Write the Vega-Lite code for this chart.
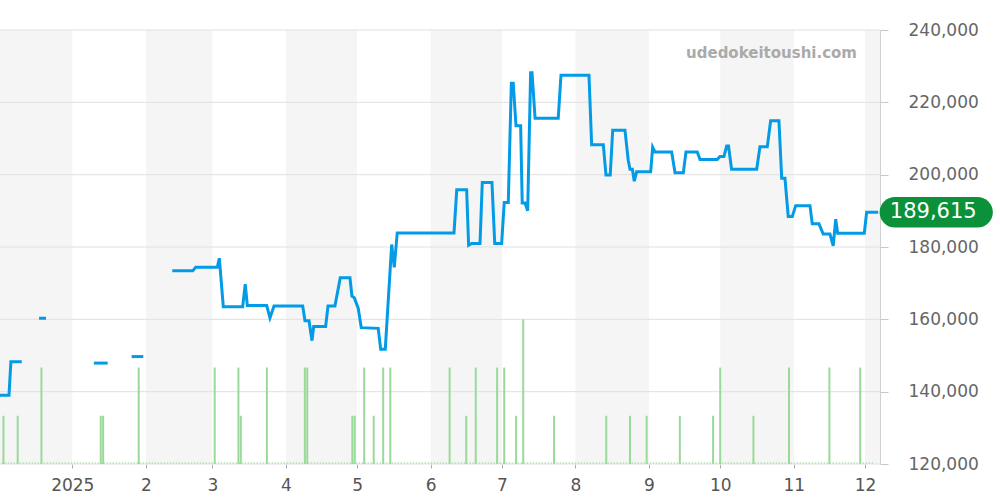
{
  "$schema": "https://vega.github.io/schema/vega-lite/v6.json",
  "width": 880,
  "height": 434,
  "autosize": {"type": "none"},
  "padding": {"left": 0, "top": 30, "right": 120, "bottom": 36},
  "background": "white",
  "config": {"view": {"stroke": null}, "font": "DejaVu Sans"},
  "title": {"text": "udedokeitoushi.com", "anchor": "end", "frame": "group", "orient": "top", "offset": 0, "dx": -23, "dy": 40, "fontSize": 15, "fontWeight": "bold", "color": "#aaaaaa", "font": "DejaVu Sans"},
  "datasets": {
    "bands": [
      {"date": "2024-11-30", "end": "2025-01-01"},
      {"date": "2025-02-01", "end": "2025-03-01"},
      {"date": "2025-04-01", "end": "2025-05-01"},
      {"date": "2025-06-01", "end": "2025-07-01"},
      {"date": "2025-08-01", "end": "2025-09-01"},
      {"date": "2025-10-01", "end": "2025-11-01"},
      {"date": "2025-12-01", "end": "2026-01-01"}
    ],
    "grid": [{"v": 120000}, {"v": 140000}, {"v": 160000}, {"v": 180000}, {"v": 200000}, {"v": 220000}, {"v": 240000}],
    "zero": [{"date": "2024-12-01", "end": "2025-12-05"}],
    "volume": [
      {"date": "2024-12-03", "vol": 1}, {"date": "2024-12-09", "vol": 1}, {"date": "2024-12-19", "vol": 2},
      {"date": "2025-01-13", "vol": 1}, {"date": "2025-01-14", "vol": 1}, {"date": "2025-01-29", "vol": 2},
      {"date": "2025-03-02", "vol": 2}, {"date": "2025-03-12", "vol": 2}, {"date": "2025-03-13", "vol": 1},
      {"date": "2025-03-24", "vol": 2}, {"date": "2025-04-09", "vol": 2}, {"date": "2025-04-10", "vol": 2},
      {"date": "2025-04-29", "vol": 1}, {"date": "2025-04-30", "vol": 1}, {"date": "2025-05-04", "vol": 2},
      {"date": "2025-05-08", "vol": 1}, {"date": "2025-05-12", "vol": 2}, {"date": "2025-05-15", "vol": 2},
      {"date": "2025-06-09", "vol": 2}, {"date": "2025-06-16", "vol": 1}, {"date": "2025-06-20", "vol": 2},
      {"date": "2025-06-29", "vol": 2}, {"date": "2025-07-02", "vol": 2}, {"date": "2025-07-07", "vol": 1},
      {"date": "2025-07-10", "vol": 3}, {"date": "2025-07-23", "vol": 1}, {"date": "2025-08-14", "vol": 1},
      {"date": "2025-08-24", "vol": 1}, {"date": "2025-08-31", "vol": 1}, {"date": "2025-09-14", "vol": 1},
      {"date": "2025-09-28", "vol": 1}, {"date": "2025-10-01", "vol": 2}, {"date": "2025-10-15", "vol": 1},
      {"date": "2025-10-30", "vol": 2}, {"date": "2025-11-16", "vol": 2}, {"date": "2025-11-29", "vol": 2}
    ],
    "price": [
      {"date": "2024-12-01T00:00:00Z", "price": 139000, "seg": 1},
      {"date": "2024-12-05T08:00:00Z", "price": 139000, "seg": 1},
      {"date": "2024-12-06T03:00:00Z", "price": 148300, "seg": 1},
      {"date": "2024-12-10T17:00:00Z", "price": 148300, "seg": 1},
      {"date": "2024-12-18T00:00:00Z", "price": 160300, "seg": 2},
      {"date": "2024-12-20T22:00:00Z", "price": 160300, "seg": 2},
      {"date": "2025-01-10T02:00:00Z", "price": 147900, "seg": 3},
      {"date": "2025-01-15T22:00:00Z", "price": 147900, "seg": 3},
      {"date": "2025-01-26T00:00:00Z", "price": 149700, "seg": 4},
      {"date": "2025-01-30T22:00:00Z", "price": 149700, "seg": 4},
      {"date": "2025-02-12T03:00:00Z", "price": 173400, "seg": 5},
      {"date": "2025-02-20T18:00:00Z", "price": 173400, "seg": 5},
      {"date": "2025-02-22T00:00:00Z", "price": 174400, "seg": 5},
      {"date": "2025-03-03T02:00:00Z", "price": 174400, "seg": 5},
      {"date": "2025-03-03T23:00:00Z", "price": 176900, "seg": 5},
      {"date": "2025-03-05T15:00:00Z", "price": 163500, "seg": 5},
      {"date": "2025-03-13T19:00:00Z", "price": 163500, "seg": 5},
      {"date": "2025-03-14T21:00:00Z", "price": 169700, "seg": 5},
      {"date": "2025-03-15T18:00:00Z", "price": 163800, "seg": 5},
      {"date": "2025-03-23T22:00:00Z", "price": 163800, "seg": 5},
      {"date": "2025-03-25T07:00:00Z", "price": 160400, "seg": 5},
      {"date": "2025-03-27T00:00:00Z", "price": 163700, "seg": 5},
      {"date": "2025-04-08T02:00:00Z", "price": 163700, "seg": 5},
      {"date": "2025-04-09T01:00:00Z", "price": 159600, "seg": 5},
      {"date": "2025-04-10T18:00:00Z", "price": 159600, "seg": 5},
      {"date": "2025-04-12T00:00:00Z", "price": 154100, "seg": 5},
      {"date": "2025-04-12T17:00:00Z", "price": 158000, "seg": 5},
      {"date": "2025-04-17T18:00:00Z", "price": 158000, "seg": 5},
      {"date": "2025-04-18T18:00:00Z", "price": 163700, "seg": 5},
      {"date": "2025-04-21T16:00:00Z", "price": 163700, "seg": 5},
      {"date": "2025-04-23T22:00:00Z", "price": 171500, "seg": 5},
      {"date": "2025-04-28T00:00:00Z", "price": 171500, "seg": 5},
      {"date": "2025-04-28T20:00:00Z", "price": 166400, "seg": 5},
      {"date": "2025-04-29T20:00:00Z", "price": 166000, "seg": 5},
      {"date": "2025-05-01T12:00:00Z", "price": 163000, "seg": 5},
      {"date": "2025-05-02T18:00:00Z", "price": 157700, "seg": 5},
      {"date": "2025-05-09T22:00:00Z", "price": 157500, "seg": 5},
      {"date": "2025-05-10T23:00:00Z", "price": 151700, "seg": 5},
      {"date": "2025-05-12T21:00:00Z", "price": 151700, "seg": 5},
      {"date": "2025-05-15T14:00:00Z", "price": 180700, "seg": 5},
      {"date": "2025-05-16T16:00:00Z", "price": 174400, "seg": 5},
      {"date": "2025-05-17T22:00:00Z", "price": 183900, "seg": 5},
      {"date": "2025-06-10T20:00:00Z", "price": 183900, "seg": 5},
      {"date": "2025-06-12T00:00:00Z", "price": 195800, "seg": 5},
      {"date": "2025-06-16T04:00:00Z", "price": 195800, "seg": 5},
      {"date": "2025-06-17T00:00:00Z", "price": 180500, "seg": 5},
      {"date": "2025-06-18T07:00:00Z", "price": 181000, "seg": 5},
      {"date": "2025-06-21T19:00:00Z", "price": 181000, "seg": 5},
      {"date": "2025-06-22T18:00:00Z", "price": 197800, "seg": 5},
      {"date": "2025-06-26T20:00:00Z", "price": 197800, "seg": 5},
      {"date": "2025-06-28T00:00:00Z", "price": 181000, "seg": 5},
      {"date": "2025-06-30T22:00:00Z", "price": 181000, "seg": 5},
      {"date": "2025-07-02T00:00:00Z", "price": 192300, "seg": 5},
      {"date": "2025-07-03T17:00:00Z", "price": 192300, "seg": 5},
      {"date": "2025-07-05T00:00:00Z", "price": 225300, "seg": 5},
      {"date": "2025-07-05T19:00:00Z", "price": 225300, "seg": 5},
      {"date": "2025-07-06T23:00:00Z", "price": 213500, "seg": 5},
      {"date": "2025-07-08T22:00:00Z", "price": 213500, "seg": 5},
      {"date": "2025-07-09T14:00:00Z", "price": 192200, "seg": 5},
      {"date": "2025-07-10T18:00:00Z", "price": 192200, "seg": 5},
      {"date": "2025-07-11T21:00:00Z", "price": 190000, "seg": 5},
      {"date": "2025-07-13T03:00:00Z", "price": 228200, "seg": 5},
      {"date": "2025-07-13T17:00:00Z", "price": 228200, "seg": 5},
      {"date": "2025-07-15T00:00:00Z", "price": 215600, "seg": 5},
      {"date": "2025-07-24T18:00:00Z", "price": 215600, "seg": 5},
      {"date": "2025-07-25T22:00:00Z", "price": 227500, "seg": 5},
      {"date": "2025-08-06T17:00:00Z", "price": 227500, "seg": 5},
      {"date": "2025-08-07T20:00:00Z", "price": 208300, "seg": 5},
      {"date": "2025-08-12T18:00:00Z", "price": 208300, "seg": 5},
      {"date": "2025-08-13T21:00:00Z", "price": 199900, "seg": 5},
      {"date": "2025-08-15T16:00:00Z", "price": 199900, "seg": 5},
      {"date": "2025-08-16T17:00:00Z", "price": 212300, "seg": 5},
      {"date": "2025-08-21T21:00:00Z", "price": 212300, "seg": 5},
      {"date": "2025-08-23T06:00:00Z", "price": 204000, "seg": 5},
      {"date": "2025-08-24T00:00:00Z", "price": 201500, "seg": 5},
      {"date": "2025-08-25T00:00:00Z", "price": 201500, "seg": 5},
      {"date": "2025-08-25T19:00:00Z", "price": 198200, "seg": 5},
      {"date": "2025-08-26T19:00:00Z", "price": 200800, "seg": 5},
      {"date": "2025-09-01T17:00:00Z", "price": 200800, "seg": 5},
      {"date": "2025-09-02T13:00:00Z", "price": 207600, "seg": 5},
      {"date": "2025-09-03T12:00:00Z", "price": 206300, "seg": 5},
      {"date": "2025-09-10T13:00:00Z", "price": 206300, "seg": 5},
      {"date": "2025-09-11T23:00:00Z", "price": 200500, "seg": 5},
      {"date": "2025-09-15T11:00:00Z", "price": 200500, "seg": 5},
      {"date": "2025-09-16T14:00:00Z", "price": 206300, "seg": 5},
      {"date": "2025-09-21T08:00:00Z", "price": 206300, "seg": 5},
      {"date": "2025-09-22T12:00:00Z", "price": 204200, "seg": 5},
      {"date": "2025-09-29T18:00:00Z", "price": 204200, "seg": 5},
      {"date": "2025-09-30T22:00:00Z", "price": 205000, "seg": 5},
      {"date": "2025-10-02T14:00:00Z", "price": 205000, "seg": 5},
      {"date": "2025-10-03T17:00:00Z", "price": 207900, "seg": 5},
      {"date": "2025-10-04T12:00:00Z", "price": 207900, "seg": 5},
      {"date": "2025-10-05T19:00:00Z", "price": 201500, "seg": 5},
      {"date": "2025-10-16T09:00:00Z", "price": 201500, "seg": 5},
      {"date": "2025-10-17T18:00:00Z", "price": 207700, "seg": 5},
      {"date": "2025-10-20T20:00:00Z", "price": 207700, "seg": 5},
      {"date": "2025-10-22T06:00:00Z", "price": 214900, "seg": 5},
      {"date": "2025-10-25T18:00:00Z", "price": 214900, "seg": 5},
      {"date": "2025-10-26T22:00:00Z", "price": 199000, "seg": 5},
      {"date": "2025-10-28T07:00:00Z", "price": 199000, "seg": 5},
      {"date": "2025-10-29T16:00:00Z", "price": 188400, "seg": 5},
      {"date": "2025-10-31T09:00:00Z", "price": 188400, "seg": 5},
      {"date": "2025-11-01T19:00:00Z", "price": 191400, "seg": 5},
      {"date": "2025-11-07T20:00:00Z", "price": 191400, "seg": 5},
      {"date": "2025-11-08T19:00:00Z", "price": 186400, "seg": 5},
      {"date": "2025-11-11T15:00:00Z", "price": 186400, "seg": 5},
      {"date": "2025-11-13T10:00:00Z", "price": 183600, "seg": 5},
      {"date": "2025-11-16T06:00:00Z", "price": 183600, "seg": 5},
      {"date": "2025-11-17T15:00:00Z", "price": 180300, "seg": 5},
      {"date": "2025-11-18T16:00:00Z", "price": 187700, "seg": 5},
      {"date": "2025-11-19T12:00:00Z", "price": 183800, "seg": 5},
      {"date": "2025-11-30T17:00:00Z", "price": 183800, "seg": 5},
      {"date": "2025-12-01T17:00:00Z", "price": 189615, "seg": 5},
      {"date": "2025-12-06T14:00:00Z", "price": 189615, "seg": 5}
    ],
    "last": [{"date": "2025-12-06T14:00:00Z", "price": 189615}]
  },
  "resolve": {"scale": {"y": "independent"}},
  "layer": [
    {
      "data": {"name": "bands"},
      "mark": {"type": "rect", "color": "#f5f5f5", "clip": true},
      "encoding": {
        "x": {"field": "date", "type": "temporal",
          "scale": {"type": "utc", "domain": [{"year": 2024, "month": 12, "date": 1, "hours": 13, "utc": true}, {"year": 2025, "month": 12, "date": 7, "hours": 8, "utc": true}]},
          "axis": {"title": null, "domain": false, "grid": false, "ticks": true, "tickSize": 4, "tickColor": "#aaaaaa",
            "labelFontSize": 17, "labelColor": "#555555", "labelPadding": 9, "labelFont": "DejaVu Sans", "labelFlush": false, "labelOverlap": false,
            "values": [
              {"year": 2025, "month": 1, "date": 1, "utc": true}, {"year": 2025, "month": 2, "date": 1, "utc": true},
              {"year": 2025, "month": 3, "date": 1, "utc": true}, {"year": 2025, "month": 4, "date": 1, "utc": true},
              {"year": 2025, "month": 5, "date": 1, "utc": true}, {"year": 2025, "month": 6, "date": 1, "utc": true},
              {"year": 2025, "month": 7, "date": 1, "utc": true}, {"year": 2025, "month": 8, "date": 1, "utc": true},
              {"year": 2025, "month": 9, "date": 1, "utc": true}, {"year": 2025, "month": 10, "date": 1, "utc": true},
              {"year": 2025, "month": 11, "date": 1, "utc": true}, {"year": 2025, "month": 12, "date": 1, "utc": true}
            ],
            "labelExpr": "utcmonth(datum.value) === 0 ? utcFormat(datum.value, '%Y') : utcFormat(datum.value, '%-m')"}},
        "x2": {"field": "end"}
      }
    },
    {
      "data": {"name": "grid"},
      "mark": {"type": "rule", "color": "#e0e0e0", "strokeWidth": 1},
      "encoding": {
        "y": {"field": "v", "type": "quantitative", "scale": {"domain": [120000, 240000], "nice": false, "zero": false}, "axis": null}
      }
    },
    {
      "data": {"name": "zero"},
      "mark": {"type": "rule", "color": "#9bd99b", "strokeWidth": 1.5, "strokeDash": [1, 2]},
      "encoding": {
        "x": {"field": "date", "type": "temporal", "scale": {"type": "utc", "domain": [{"year": 2024, "month": 12, "date": 1, "hours": 13, "utc": true}, {"year": 2025, "month": 12, "date": 7, "hours": 8, "utc": true}]}},
        "x2": {"field": "end"},
        "y": {"datum": 0.02, "type": "quantitative", "scale": {"domain": [0, 9], "nice": false, "zero": true}, "axis": null}
      }
    },
    {
      "data": {"name": "volume"},
      "mark": {"type": "rule", "color": "#9bd99b", "strokeWidth": 2},
      "encoding": {
        "x": {"field": "date", "type": "temporal", "scale": {"type": "utc", "domain": [{"year": 2024, "month": 12, "date": 1, "hours": 13, "utc": true}, {"year": 2025, "month": 12, "date": 7, "hours": 8, "utc": true}]}},
        "y": {"field": "vol", "type": "quantitative", "scale": {"domain": [0, 9], "nice": false, "zero": true}, "axis": null},
        "y2": {"datum": 0}
      }
    },
    {
      "data": {"name": "price"},
      "mark": {"type": "line", "color": "#039be5", "strokeWidth": 3, "clip": true},
      "encoding": {
        "x": {"field": "date", "type": "temporal", "scale": {"type": "utc", "domain": [{"year": 2024, "month": 12, "date": 1, "hours": 13, "utc": true}, {"year": 2025, "month": 12, "date": 7, "hours": 8, "utc": true}]}},
        "y": {"field": "price", "type": "quantitative", "scale": {"domain": [120000, 240000], "nice": false, "zero": false},
          "axis": {"orient": "right", "title": null, "values": [120000, 140000, 160000, 180000, 200000, 220000, 240000], "format": ",d",
            "grid": false, "domain": true, "domainColor": "#d0d0d0", "ticks": true, "tickSize": 8, "tickColor": "#c8c8c8",
            "labelFontSize": 17, "labelColor": "#666666", "labelPadding": 20, "labelFont": "DejaVu Sans", "labelFlush": false, "labelOverlap": false}},
        "detail": {"field": "seg", "type": "nominal"}
      }
    },
    {
      "data": {"name": "last"},
      "mark": {"type": "point", "shape": "M-2.69,-1L2.69,-1C3.242,-1,3.69,-0.552,3.69,0C3.69,0.552,3.242,1,2.69,1L-2.69,1C-3.242,1,-3.69,0.552,-3.69,0C-3.69,-0.552,-3.242,-1,-2.69,-1Z", "size": 942, "filled": true, "color": "#0a913a", "opacity": 1, "strokeWidth": 0, "xOffset": 58},
      "encoding": {
        "x": {"field": "date", "type": "temporal", "scale": {"type": "utc", "domain": [{"year": 2024, "month": 12, "date": 1, "hours": 13, "utc": true}, {"year": 2025, "month": 12, "date": 7, "hours": 8, "utc": true}]}},
        "y": {"field": "price", "type": "quantitative", "scale": {"domain": [120000, 240000], "nice": false, "zero": false}, "axis": null}
      }
    },
    {
      "data": {"name": "last"},
      "mark": {"type": "text", "align": "center", "baseline": "middle", "dx": 55, "fontSize": 21, "color": "white", "font": "DejaVu Sans"},
      "encoding": {
        "x": {"field": "date", "type": "temporal", "scale": {"type": "utc", "domain": [{"year": 2024, "month": 12, "date": 1, "hours": 13, "utc": true}, {"year": 2025, "month": 12, "date": 7, "hours": 8, "utc": true}]}},
        "y": {"field": "price", "type": "quantitative", "scale": {"domain": [120000, 240000], "nice": false, "zero": false}, "axis": null},
        "text": {"field": "price", "type": "quantitative", "format": ","}
      }
    }
  ]
}
